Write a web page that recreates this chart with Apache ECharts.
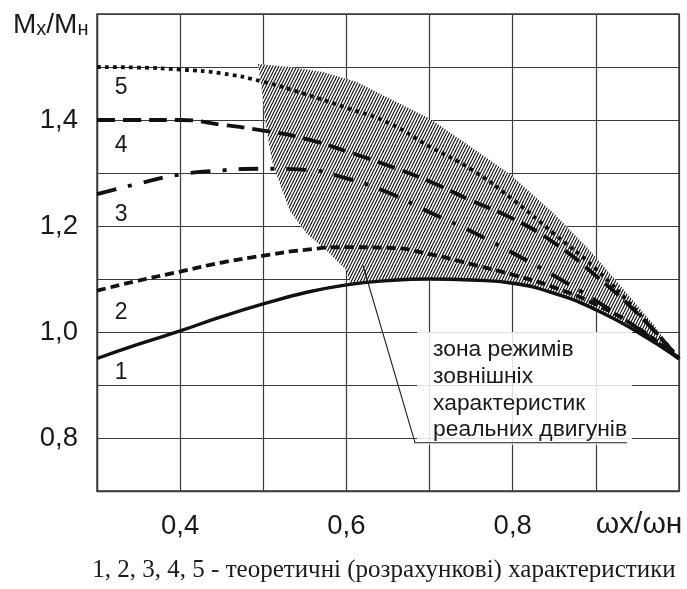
<!DOCTYPE html>
<html>
<head>
<meta charset="utf-8">
<script src="https://cdn.jsdelivr.net/npm/echarts/dist/echarts.min.js"></script>
<style>
  html, body { margin: 0; padding: 0; background: #fff; }
  #chart { width: 687px; height: 589px; }
</style>
</head>
<body>
<div id="chart"></div>
<script>
// ---------- data ----------
const xs = [0.3, 0.35, 0.4, 0.45, 0.5, 0.55, 0.6, 0.65, 0.7, 0.75, 0.8, 0.85, 0.9, 0.95, 1.0];
const curve1 = [0.95, 0.977, 1.002, 1.029, 1.053, 1.074, 1.089, 1.097, 1.1, 1.098, 1.092, 1.073, 1.042, 1.0, 0.95];
const curve2 = [1.078, 1.097, 1.114, 1.131, 1.144, 1.155, 1.16, 1.159, 1.147, 1.128, 1.108, 1.084, 1.052, 1.008, 0.95];
const curve3 = [1.26, 1.28, 1.297, 1.305, 1.308, 1.306, 1.29, 1.263, 1.226, 1.19, 1.149, 1.106, 1.059, 1.007, 0.95];
const curve4 = [1.4, 1.4, 1.4, 1.391, 1.38, 1.365, 1.341, 1.314, 1.284, 1.248, 1.214, 1.168, 1.106, 1.035, 0.95];
const curve5 = [1.5, 1.499, 1.495, 1.488, 1.472, 1.449, 1.423, 1.395, 1.35, 1.307, 1.25, 1.185, 1.119, 1.038, 0.95];

const xTickValues = [0.4, 0.6, 0.8];
const yTickValues = [0.8, 1.0, 1.2, 1.4];

// zone of real engines: upper edge (left -> right) and left edge (bottom -> top)
const hatchTop = [[0.4937, 1.5055], [0.5321, 1.5], [0.5718, 1.4905], [0.6127, 1.4718], [0.6404, 1.4493],
  [0.7005, 1.4025], [0.74, 1.36], [0.7968, 1.2975], [0.8485, 1.225], [0.8894, 1.16], [0.9291, 1.088],
  [0.9688, 1.015], [1.0, 0.95]];
const hatchLeft = [[0.6043, 1.09], [0.6007, 1.1155], [0.5767, 1.153], [0.5526, 1.1849], [0.5321, 1.228],
  [0.5201, 1.2787], [0.5105, 1.3218], [0.5057, 1.3649], [0.5021, 1.4024], [0.4985, 1.453]];

const curveNames = ['1', '2', '3', '4', '5'];
const curveLabelPos = [[0.329, 0.924], [0.329, 1.037], [0.329, 1.222], [0.329, 1.352], [0.329, 1.461]];

const noteLines = ['зона режимів', 'зовнішніх', 'характеристик', 'реальних двигунів'];
const noteBox = [[0.685, 1.0], [0.9435, 0.7875]];
const leader = [[0.62, 1.125], [0.6825, 0.791], [0.9375, 0.791]];
const caption = '1, 2, 3, 4, 5 - теоретичні (розрахункові) характеристики';

// ---------- styles ----------
const SANS = '"Liberation Sans", Arial, sans-serif';
const SERIF = '"Liberation Serif", "Times New Roman", serif';
const INK = '#111';
const TXT = '#1a1a1a';
const GRID_C = '#3a3a3a';

const lineTypes = [
  'solid',
  [9, 5],
  [20, 12, 4, 12],
  [18, 8],
  [3.8, 4.2]
];

const curves = [curve1, curve2, curve3, curve4, curve5];

function makeHatch() {
  const c = document.createElement('canvas');
  c.width = 12; c.height = 24;
  const g = c.getContext('2d');
  g.fillStyle = '#fff';
  g.fillRect(0, 0, 12, 24);
  g.strokeStyle = '#111';
  g.lineWidth = 1.1;
  for (let a = -15; a <= 15; a += 3) {
    g.beginPath();
    g.moveTo(a, 24);
    g.lineTo(a + 12, 0);
    g.stroke();
  }
  return c;
}
const hatchImg = makeHatch();

// polygon: top edge, then back along curve 1, then up the left edge
const hatchPoly = hatchTop
  .concat(xs.map((x, i) => [x, curve1[i]]).filter(p => p[0] > 0.62 && p[0] < 0.99).reverse())
  .concat(hatchLeft);

const fmt = v => v.toFixed(1).replace('.', ',');
const isTick = (v, list) => list.some(t => Math.abs(t - v) < 1e-6);

const chart = echarts.init(document.getElementById('chart'), null, { renderer: 'canvas' });

const series = [
  {
    type: 'custom',
    silent: true,
    z: 1,
    data: [0],
    renderItem: (params, api) => ({
      type: 'polygon',
      shape: { points: hatchPoly.map(p => api.coord(p)) },
      style: { fill: { image: hatchImg, repeat: 'repeat' }, stroke: null }
    })
  }
].concat(curves.map((c, k) => ({
  type: 'line',
  name: curveNames[k],
  z: 5,
  data: xs.map((x, i) => [x, c[i]]),
  smooth: 0.5,
  symbol: 'none',
  lineStyle: { color: INK, width: k === 0 ? 3.4 : 3.8, type: lineTypes[k], cap: 'butt' },
  animation: false
})));

chart.setOption({
  backgroundColor: '#fff',
  animation: false,
  grid: { left: 97, right: 8, top: 14, bottom: 98, show: true, borderColor: GRID_C, borderWidth: 1.4 },
  xAxis: {
    type: 'value', min: 0.3, max: 1.0, interval: 0.1,
    axisLine: { show: true, lineStyle: { color: GRID_C, width: 1.4 } },
    axisTick: { show: false },
    splitLine: { show: true, lineStyle: { color: GRID_C, width: 1.2 } },
    axisLabel: {
      margin: 21, fontSize: 27.5, color: TXT, fontFamily: SANS,
      formatter: v => (isTick(v, xTickValues) ? fmt(v) : '')
    }
  },
  yAxis: {
    type: 'value', min: 0.7, max: 1.6, interval: 0.1,
    axisLine: { show: true, lineStyle: { color: GRID_C, width: 1.4 } },
    axisTick: { show: false },
    splitLine: { show: true, lineStyle: { color: GRID_C, width: 1.2 } },
    axisLabel: {
      margin: 19, fontSize: 27.5, color: TXT, fontFamily: SANS,
      formatter: v => (isTick(v, yTickValues) ? fmt(v) : '')
    }
  },
  series
});

// ---------- annotations ----------
const px = p => chart.convertToPixel({ gridIndex: 0 }, p);
const graphics = [];

curveNames.forEach((n, k) => {
  const p = px(curveLabelPos[k]);
  graphics.push({
    type: 'text', x: p[0], y: p[1], z: 20, silent: true,
    style: { text: n, fontSize: 23, fontFamily: SANS, fill: TXT, align: 'center', verticalAlign: 'middle' }
  });
});

const b0 = px(noteBox[0]);
const b1 = px(noteBox[1]);
graphics.push({
  type: 'rect', z: 15, silent: true,
  shape: { x: b0[0], y: b0[1], width: b1[0] - b0[0], height: b1[1] - b0[1] },
  style: { fill: 'rgba(255,255,255,0.85)' }
});
noteLines.forEach((t, i) => {
  graphics.push({
    type: 'text', x: b0[0] + 16, y: b0[1] + 18 + i * 26.7, z: 20, silent: true,
    style: { text: t, fontSize: 22.8, fontFamily: SANS, fill: TXT, align: 'left', verticalAlign: 'middle' }
  });
});
graphics.push({
  type: 'polyline', z: 18, silent: true,
  shape: { points: leader.map(px) },
  style: { stroke: '#222', lineWidth: 1.1, fill: null }
});

// axis names
graphics.push({
  type: 'text', x: 13, y: 25, z: 20, silent: true,
  style: {
    text: '{a|M}{b|x}{a|/M}{b|н}', verticalAlign: 'middle', fill: TXT, fontFamily: SANS,
    rich: {
      a: { fontSize: 28, fontFamily: SANS, fill: TXT, verticalAlign: 'bottom' },
      b: { fontSize: 20, fontFamily: SANS, fill: TXT, verticalAlign: 'bottom' }
    }
  }
});
graphics.push({
  type: 'text', x: 639, y: 525, z: 20, silent: true,
  style: { text: 'ωx/ωн', fontSize: 30, fontFamily: SANS, fill: TXT, align: 'center', verticalAlign: 'middle' }
});
graphics.push({
  type: 'text', x: 384, y: 570, z: 20, silent: true,
  style: { text: caption, fontSize: 25, fontFamily: SERIF, fill: TXT, align: 'center', verticalAlign: 'middle' }
});

chart.setOption({ graphic: graphics });
</script>
</body>
</html>
